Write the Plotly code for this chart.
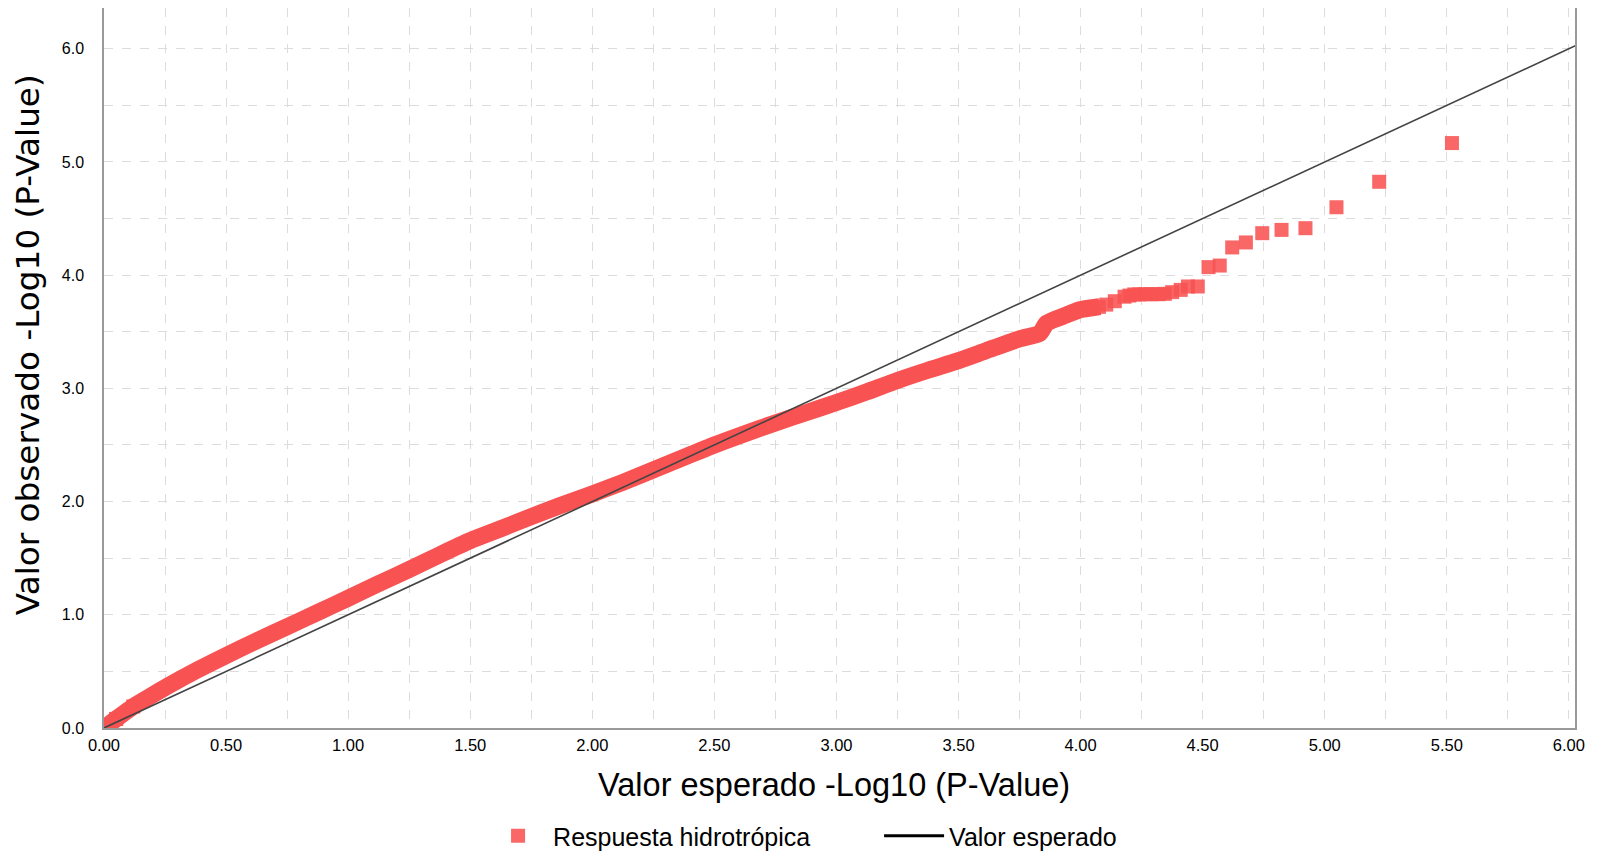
import plotly.graph_objects as go

band_x = [0.0, 0.05, 0.12, 0.19, 0.257, 0.38, 0.5, 0.625, 0.75, 0.875, 1.0,
          1.125, 1.25, 1.375, 1.5, 1.625, 1.75, 1.875, 2.0, 2.125, 2.25,
          2.375, 2.5, 2.625, 2.75, 2.875, 3.0, 3.125, 3.25, 3.375, 3.5,
          3.615, 3.75, 3.833, 3.861, 3.943, 3.997, 4.04, 4.079]
band_y = [0.0, 0.08, 0.19, 0.28, 0.365, 0.51, 0.64, 0.77, 0.895, 1.02, 1.146,
          1.275, 1.40, 1.53, 1.655, 1.76, 1.867, 1.97, 2.068, 2.17, 2.28,
          2.39, 2.50, 2.60, 2.695, 2.785, 2.875, 2.97, 3.07, 3.16, 3.245,
          3.334, 3.437, 3.487, 3.576, 3.649, 3.694, 3.71, 3.723]

# Individually visible points in the upper tail
tail_x = [4.0, 4.04, 4.075, 4.105, 4.14, 4.18, 4.20, 4.22, 4.24, 4.265,
          4.29, 4.32, 4.345, 4.375, 4.41, 4.44, 4.48, 4.524, 4.570, 4.621,
          4.677, 4.744, 4.823, 4.921, 5.048, 5.223, 5.521]
tail_y = [3.694, 3.71, 3.72, 3.74, 3.77, 3.81, 3.82, 3.83, 3.83, 3.832,
          3.832, 3.832, 3.835, 3.85, 3.87, 3.90, 3.90, 4.071, 4.085, 4.245,
          4.289, 4.371, 4.40, 4.415, 4.60, 4.825, 5.167]

# Expected line
exp_x = [0.0, 6.03]
exp_y = [0.0, 6.03]

RED = "rgb(248,82,82)"
FONT = "Liberation Sans, Arial, sans-serif"

fig = go.Figure()
fig.add_trace(go.Scatter(x=band_x, y=band_y, mode="lines",
                         line=dict(color=RED, width=17, shape="spline", smoothing=0.6),
                         showlegend=False, hoverinfo="skip"))
fig.add_trace(go.Scatter(x=band_x[:3], y=band_y[:3], mode="markers",
                         marker=dict(symbol="square", size=14, color=RED),
                         showlegend=False, hoverinfo="skip"))
fig.add_trace(go.Scatter(x=tail_x, y=tail_y, mode="markers",
                         name="Respuesta hidrotrópica",
                         marker=dict(symbol="square", size=14, color=RED, opacity=0.88)))
fig.add_trace(go.Scatter(x=exp_x, y=exp_y, mode="lines",
                         line=dict(color="#444444", width=1.6),
                         showlegend=False))
fig.add_trace(go.Scatter(x=[None], y=[None], mode="lines", name="Valor esperado",
                         line=dict(color="black", width=3)))

grid = dict(showgrid=True, gridcolor="#dcdcdc", griddash="dash", gridwidth=1)

# The page body adds an 8px offset; the figure is sized to fill the rest.
fig.update_layout(
    width=1590, height=848,
    margin=dict(l=96, r=23, t=0, b=128, autoexpand=False),
    paper_bgcolor="white", plot_bgcolor="white",
    font=dict(family=FONT, color="black"),
    xaxis=dict(range=[0, 6.025], dtick=0.5, tick0=0, tickformat=".2f",
               showline=True, linecolor="#999999", linewidth=1.5, mirror=True,
               zeroline=False, ticks="", ticklabelstandoff=1,
               tickfont=dict(size=16.5, family=FONT),
               minor=dict(dtick=0.25, showgrid=True, gridcolor="#dcdcdc", griddash="dash"),
               **grid),
    yaxis=dict(range=[0, 6.36], dtick=1.0, tick0=0, tickformat=".1f",
               showline=True, linecolor="#999999", linewidth=1.5, mirror=True,
               zeroline=False, ticks="", ticklabelstandoff=15,
               tickfont=dict(size=16, family=FONT),
               minor=dict(dtick=0.5, showgrid=True, gridcolor="#dcdcdc", griddash="dash"),
               **grid),
    legend=dict(orientation="h", x=0.2577, xanchor="left", y=-0.15, yanchor="middle",
                font=dict(size=25, family=FONT), itemwidth=60,
                entrywidth=321, entrywidthmode="pixels"),
    annotations=[
        dict(text="Valor esperado -Log10 (P-Value)", xref="paper", yref="paper",
             x=0.4966, y=-0.079, xanchor="center", yanchor="middle", showarrow=False,
             font=dict(size=32.5, family=FONT)),
        dict(text="Valor observado -Log10 (P-Value)", xref="paper", yref="paper",
             x=-0.0517, y=0.533, xanchor="center", yanchor="middle", showarrow=False,
             textangle=-90, font=dict(size=32.7, family="DejaVu Sans")),
    ],
)

fig.write_html("out.html")
